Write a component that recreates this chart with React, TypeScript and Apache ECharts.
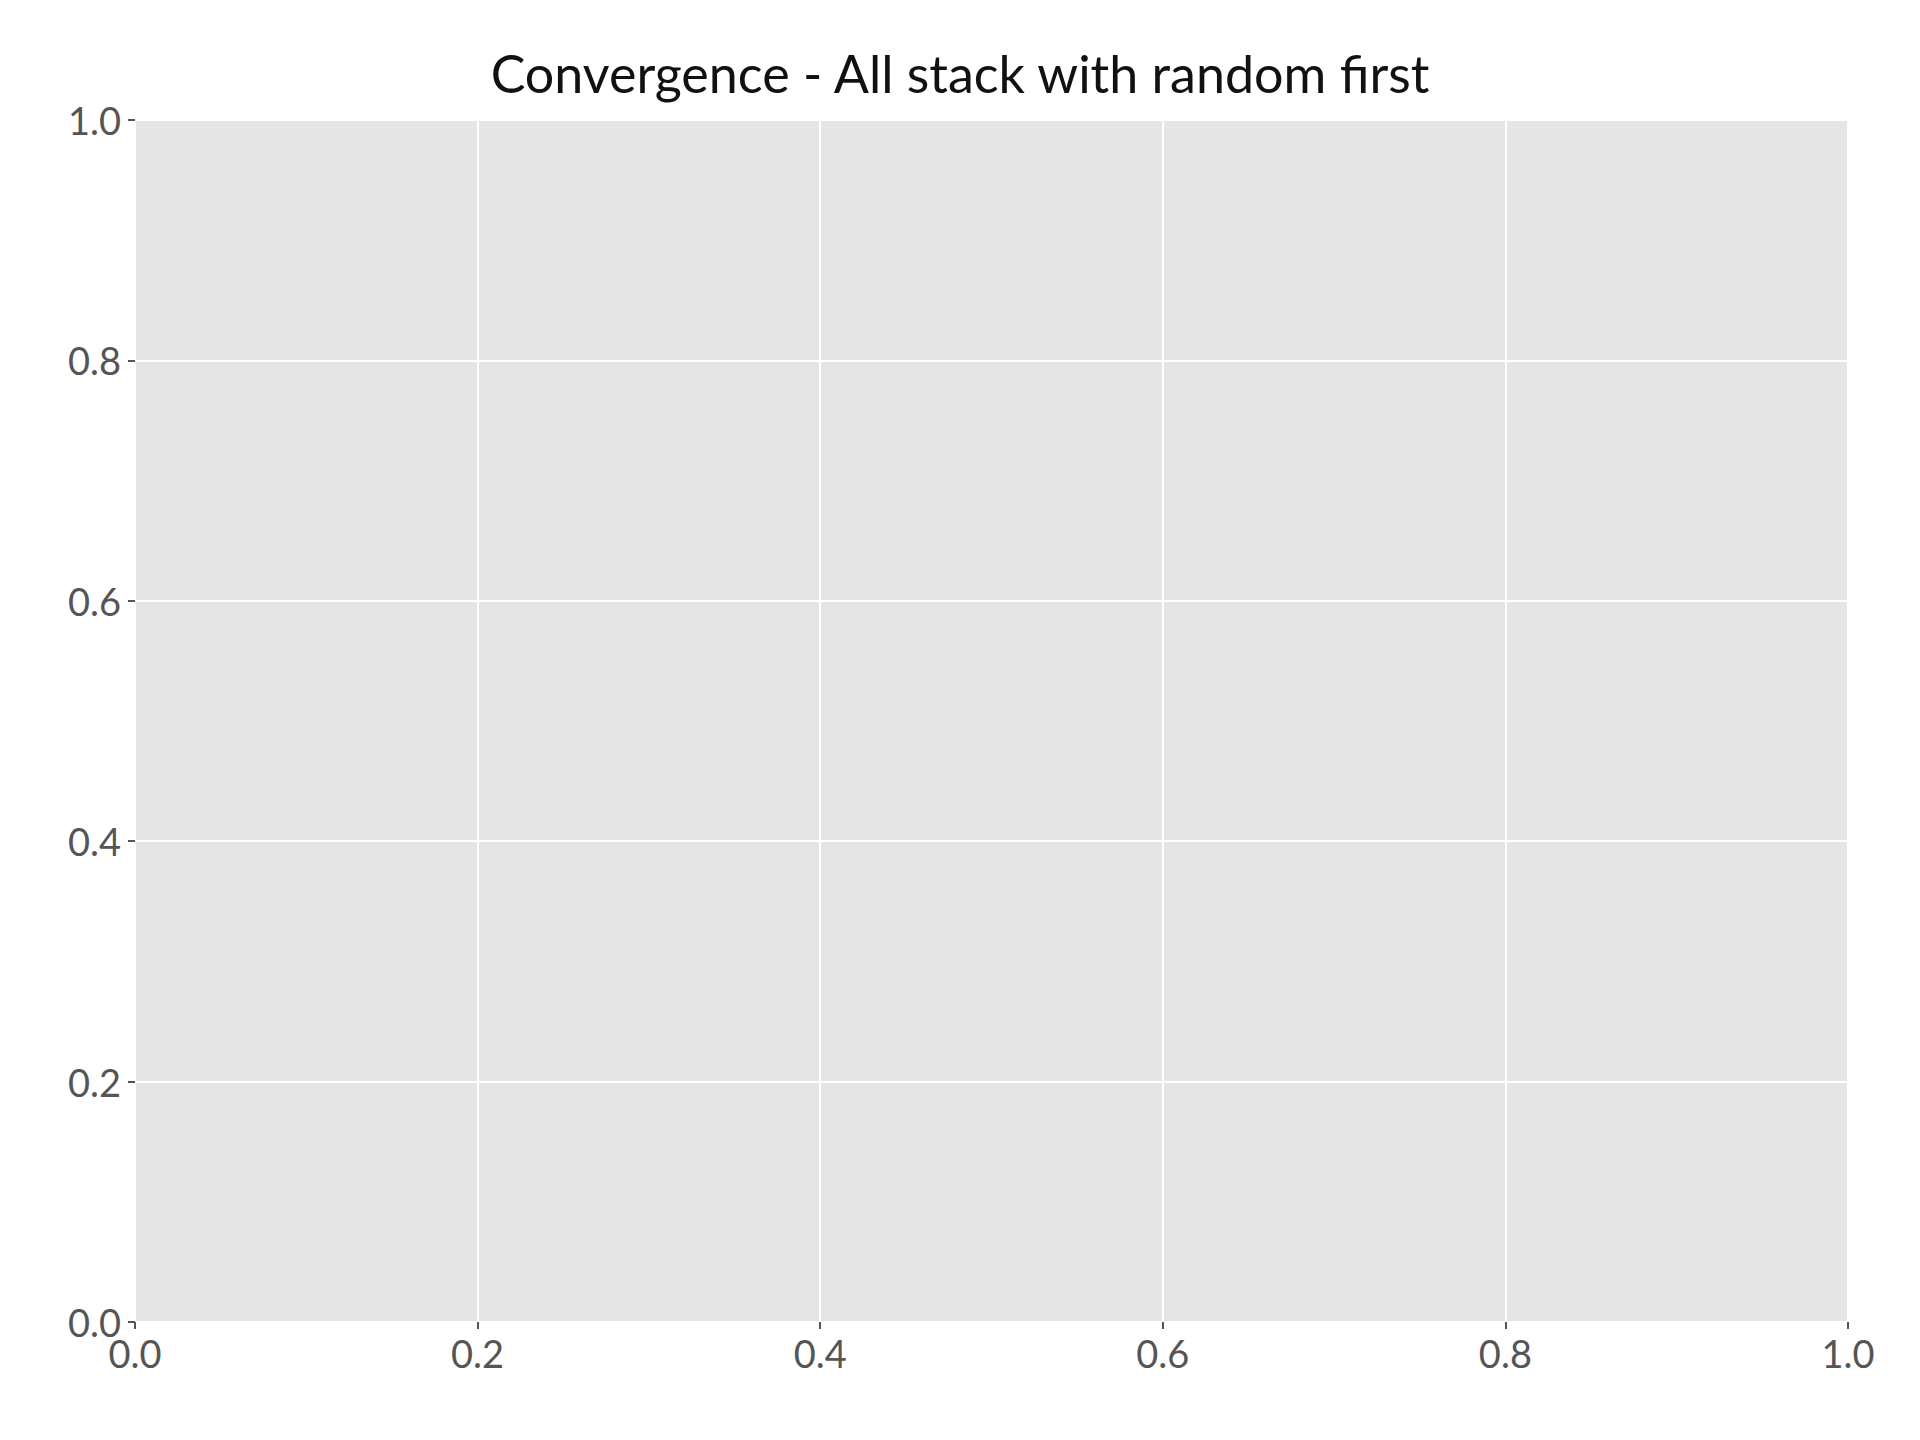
import React, { useEffect, useRef } from "react";
import * as echarts from "echarts";

const title = "Convergence - All stack with random first";
const xRange = [0, 1];
const yRange = [0, 1];
const tickStep = 0.2;
const seriesData: number[][] = [];

export default function App() {
  const ref = useRef<HTMLDivElement>(null);
  useEffect(() => {
    document.body.style.margin = "0";
    const chart = echarts.init(ref.current!, null, { renderer: "svg" });
    const axisCommon = {
      type: "value",
      interval: tickStep,
      axisLine: { show: false },
      axisTick: { show: true, inside: false, length: 7, lineStyle: { color: "#555", width: 2 } },
      splitLine: { show: true, lineStyle: { color: "#ffffff", width: 2 } },
      axisLabel: {
        color: "#555",
        fontSize: 38,
        fontFamily: "Lato, 'Open Sans', sans-serif",
        formatter: (v: number) => v.toFixed(1),
      },
    };
    chart.setOption({
      animation: false,
      backgroundColor: "#fff",
      title: {
        text: title,
        left: "center",
        top: 42,
        textStyle: { fontSize: 52, fontWeight: "normal", color: "#111", fontFamily: "Lato, 'Open Sans', sans-serif" },
      },
      grid: {
        left: 135, right: 72, top: 120, bottom: 118,
        show: true, backgroundColor: "#E5E5E5", borderWidth: 0,
      },
      xAxis: { ...axisCommon, min: xRange[0], max: xRange[1], axisLabel: { ...axisCommon.axisLabel, margin: 12 } },
      yAxis: { ...axisCommon, min: yRange[0], max: yRange[1], axisLabel: { ...axisCommon.axisLabel, margin: 14 } },
      series: [{ type: "line", data: seriesData }],
    });
    return () => chart.dispose();
  }, []);
  return <div ref={ref} style={{ width: 1920, height: 1440 }} />;
}
